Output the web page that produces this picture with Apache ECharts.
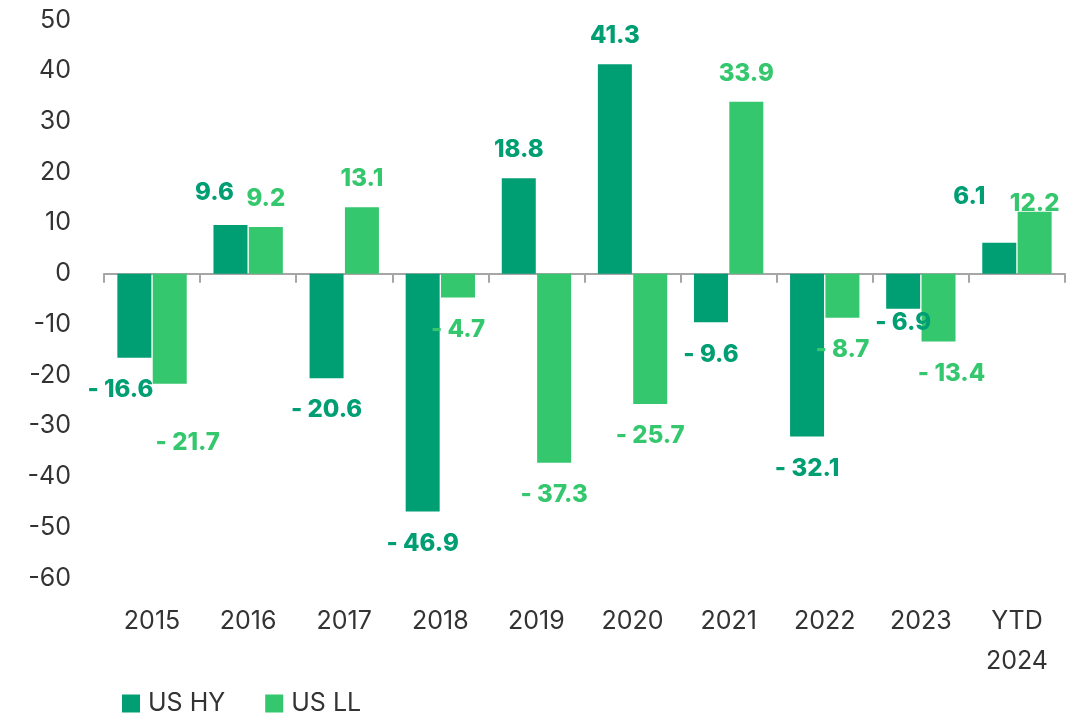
<!DOCTYPE html>
<html>
<head>
<meta charset="utf-8">
<script src="https://cdn.jsdelivr.net/npm/echarts@6/dist/echarts.min.js"></script>
<style>
html,body{margin:0;padding:0;background:#fff;}
#chart{width:1078px;height:716px;}
</style>
</head>
<body>
<div id="chart"></div>
<script>
var categories = ['2015','2016','2017','2018','2019','2020','2021','2022','2023','YTD\n2024'];
var usHY = [-16.6, 9.6, -20.6, -46.9, 18.8, 41.3, -9.6, -32.1, -6.9, 6.1];
var usLL = [-21.7, 9.2, 13.1, -4.7, -37.3, -25.7, 33.9, -8.7, -13.4, 12.2];
var yTicks = {min: -60, max: 50, interval: 10};

// label nudges (style only): [dx, dy] per category index
var hyNudge = {0: [-14, 0], 1: [-16, -4], 8: [0, -18], 9: [-30, -18]};
var llNudge = {0: [18, 27], 8: [13, 0], 9: [0, 20]};

var FONT = 'Inter, "Open Sans", sans-serif';
var DARK = '#009E73';
var LIGHT = '#35C76E';

function fmt(v){ return v < 0 ? '- ' + Math.abs(v).toFixed(1) : v.toFixed(1); }
function buildData(arr, color, nudge){
  return arr.map(function(v, i){
    var off = nudge[i] || [0, 0];
    return {
      value: v,
      label: {
        show: true,
        position: v < 0 ? 'bottom' : 'top',
        distance: v < 0 ? 20 : 16,
        offset: off,
        formatter: function(p){ return fmt(p.value); },
        color: color,
        fontFamily: FONT,
        fontWeight: 800,
        fontSize: 24
      }
    };
  });
}

var chart = echarts.init(document.getElementById('chart'), null, {renderer: 'canvas'});
chart.setOption({
  animation: false,
  backgroundColor: '#fff',
  grid: {left: 104, right: 13, top: 20, bottom: 138, containLabel: false},
  legend: {
    left: 122, top: 691,
    padding: 0,
    itemWidth: 18, itemHeight: 18, itemGap: 40,
    icon: 'rect',
    textStyle: {fontFamily: FONT, fontSize: 25, color: '#333', padding: [0, 0, 0, 3]},
    data: ['US HY', 'US LL']
  },
  xAxis: [{
    type: 'category',
    data: categories,
    axisLine: {onZero: true, lineStyle: {color: '#a6a6a6', width: 2}},
    axisTick: {show: true, length: 9, lineStyle: {color: '#a6a6a6', width: 2}},
    axisLabel: {show: false}
  }, {
    type: 'category',
    data: categories,
    position: 'bottom',
    axisLine: {show: false, onZero: false},
    axisTick: {show: false},
    axisLabel: {show: true, margin: 23, fontFamily: FONT, fontSize: 25, color: '#333', lineHeight: 40}
  }],
  yAxis: {
    type: 'value',
    min: yTicks.min, max: yTicks.max, interval: yTicks.interval,
    axisLine: {show: false},
    axisTick: {show: false},
    splitLine: {show: false},
    axisLabel: {margin: 33, fontFamily: FONT, fontSize: 25, color: '#333',
      formatter: function(v){ return String(v); }}
  },
  series: [{
    name: 'US HY', type: 'bar', xAxisIndex: 0,
    data: buildData(usHY, DARK, hyNudge),
    barWidth: 34, barGap: '4%',
    itemStyle: {color: DARK}
  }, {
    name: 'US LL', type: 'bar', xAxisIndex: 0,
    data: buildData(usLL, LIGHT, llNudge),
    barWidth: 34, barGap: '4%',
    itemStyle: {color: LIGHT}
  }]
});
</script>
</body>
</html>
